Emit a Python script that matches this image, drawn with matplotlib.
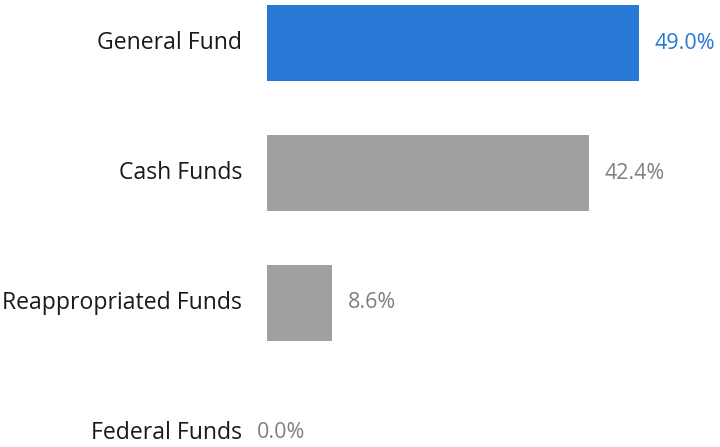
import matplotlib.pyplot as plt

categories = ["General Fund", "Cash Funds", "Reappropriated Funds", "Federal Funds"]
shares = [49.0, 42.4, 8.6, 0.0]
bar_colors = ["#2878d6", "#a0a0a0", "#a0a0a0", "#a0a0a0"]
value_colors = ["#2878d6", "#808080", "#808080", "#808080"]

plt.rcParams['font.family'] = ['Open Sans', 'DejaVu Sans']

fig = plt.figure(figsize=(7.2, 4.47), dpi=100)
ax = fig.add_axes([267 / 720, 0, 1 - 267 / 720, 1])

pos = list(range(len(categories)))
ax.barh(pos, shares, height=0.59, color=bar_colors)

for i, v in enumerate(shares):
    # zero value label sits a bit left of the axis, like the original
    off = 11 if v > 0 else -7
    ax.annotate(f"{v:.1f}%", (v, i), xytext=(off, 0), textcoords='offset points',
                va='center', ha='left', fontsize=15.5, color=value_colors[i])
    ax.annotate(categories[i], (0, i), xytext=(-18, 0), textcoords='offset points',
                va='center', ha='right', fontsize=16.6, color='#1a1a1a')

ax.set_xlim(0, 453 / 7.59)
ax.set_ylim(3.108, -0.331)
ax.axis('off')

fig.savefig("out.png", dpi=100)
